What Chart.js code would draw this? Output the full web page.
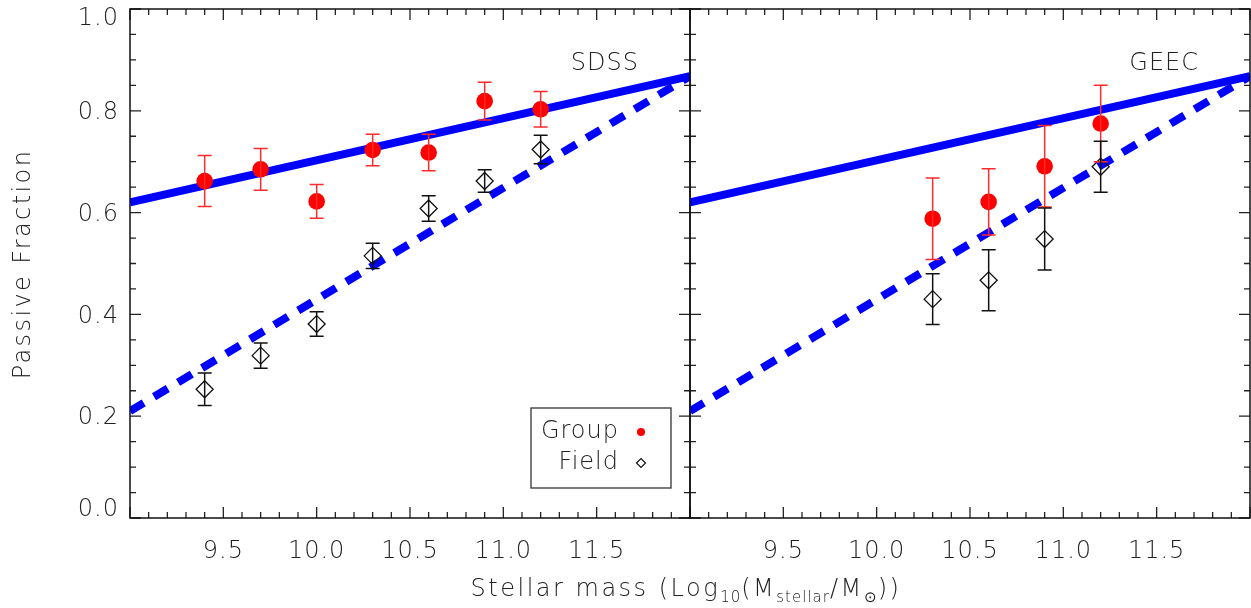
<!DOCTYPE html>
<html>
<head>
<meta charset="utf-8">
<script src="https://cdn.jsdelivr.net/npm/chart.js@4.4.0/dist/chart.umd.min.js"></script>
<style>
  body { margin: 0; background: #fff; }
  #wrap { position: relative; width: 1251px; height: 608px; overflow: hidden; font-family: 'DejaVu Sans', Lato, sans-serif; font-weight: 200; color: #222; }
  #sdss { position: absolute; left: 0; top: 0; }
  #geec { position: absolute; left: 680px; top: 0; }
  .title { position: absolute; font-size: 24px; letter-spacing: 2.5px; line-height: 30px; height: 30px; text-align: center; white-space: nowrap; }
  #ytitle { left: -128px; top: 249px; width: 300px; transform: rotate(-90deg); letter-spacing: 2.4px; }
  #xtitle { left: 386px; top: 573px; width: 600px; }
  sub { font-size: 15px; vertical-align: -6px; letter-spacing: 1px; }
</style>
</head>
<body>
<div id="wrap">
  <canvas id="sdss" width="700" height="608"></canvas>
  <canvas id="geec" width="571" height="608"></canvas>
  <div class="title" id="ytitle">Passive Fraction</div>
  <div class="title" id="xtitle">Stellar mass (Log<sub>10</sub>(M<sub>stellar</sub>/M<sub>⊙</sub>))</div>
</div>
<script>
// values
const sdssMass = [9.4, 9.7, 10.0, 10.3, 10.6, 10.9, 11.2];
const sdssGroup = [0.662, 0.685, 0.622, 0.723, 0.718, 0.819, 0.803];
const sdssGroupErr = [0.050, 0.041, 0.033, 0.031, 0.036, 0.037, 0.035];
const sdssField = [0.253, 0.319, 0.381, 0.515, 0.608, 0.662, 0.724];
const sdssFieldErr = [0.032, 0.025, 0.024, 0.025, 0.025, 0.022, 0.028];

const geecMass = [10.3, 10.6, 10.9, 11.2];
const geecGroup = [0.588, 0.621, 0.691, 0.775];
const geecGroupErr = [0.080, 0.065, 0.080, 0.075];
const geecField = [0.430, 0.467, 0.548, 0.690];
const geecFieldErr = [0.050, 0.060, 0.061, 0.050];

// fitted relations (end points)
const fitMass = [9.0, 12.0];
const groupFit = [0.62, 0.868];
const fieldFit = [0.21, 0.868];

const xTickLabels = ['9.5', '10.0', '10.5', '11.0', '11.5'];
const yTickLabels = ['0.0', '0.2', '0.4', '0.6', '0.8', '1.0'];

const FONT = "'DejaVu Sans', Lato, sans-serif";
Chart.defaults.font.family = FONT;
Chart.defaults.font.weight = 200;
Chart.defaults.font.size = 24;
Chart.defaults.color = '#222';

function pts(xs, ys) {
    return xs.map((x, i) => ({ x: x, y: ys[i] }));
}

function panelData(mass, group, groupErr, field, fieldErr) {
    return [
        {
            label: 'Group', data: pts(mass, group), errors: groupErr, errColor: '#ff2a2a',
            pointStyle: 'circle', pointRadius: 8.3, backgroundColor: '#ff0000', borderWidth: 0
        },
        {
            label: 'Field', data: pts(mass, field), errors: fieldErr, errColor: '#111',
            pointStyle: 'rectRot', pointRadius: 8.5, borderColor: '#111', borderWidth: 1.3,
            backgroundColor: 'rgba(0,0,0,0)'
        },
        {
            label: 'Group fit', data: pts(fitMass, groupFit), showLine: true, pointRadius: 0,
            borderColor: '#0000ff', borderWidth: 8, clip: 0
        },
        {
            label: 'Field fit', data: pts(fitMass, fieldFit), showLine: true, pointRadius: 0,
            borderColor: '#0000ff', borderWidth: 8, borderDash: [16, 12], clip: 0
        }
    ];
}

// no automatic padding from the tick labels, the frame is placed by hand
function noPad(s) {
    s.paddingTop = 0; s.paddingBottom = 0; s.paddingLeft = 0; s.paddingRight = 0;
}

// y labels: the end ones are kept inside the frame (empty line pushes them in)
function yLabel(v) {
    const t = v.toFixed(1);
    if (!yTickLabels.includes(t)) return '';
    if (t === '1.0') return ['', t];
    if (t === '0.0') return [t, ''];
    return t;
}

// error bars, frame, inner tick marks, panel label and legend box
const decor = {
    id: 'decor',
    beforeDraw(chart) {
        chart.ctx.letterSpacing = '1px';
    },
    afterDatasetsDraw(chart) {
        const ctx = chart.ctx, x = chart.scales.x, y = chart.scales.y;
        ctx.save();
        chart.data.datasets.forEach(ds => {
            if (!ds.errors) return;
            ctx.strokeStyle = ds.errColor;
            ctx.lineWidth = 1.5;
            ctx.beginPath();
            ds.data.forEach((p, i) => {
                const px = x.getPixelForValue(p.x);
                const top = y.getPixelForValue(p.y + ds.errors[i]);
                const bot = y.getPixelForValue(p.y - ds.errors[i]);
                ctx.moveTo(px, top); ctx.lineTo(px, bot);
                ctx.moveTo(px - 7, top); ctx.lineTo(px + 7, top);
                ctx.moveTo(px - 7, bot); ctx.lineTo(px + 7, bot);
            });
            ctx.stroke();
        });
        ctx.restore();
    },
    afterDraw(chart, args, opts) {
        const ctx = chart.ctx, a = chart.chartArea, x = chart.scales.x, y = chart.scales.y;
        ctx.save();
        ctx.strokeStyle = '#222';
        ctx.lineWidth = 1.3;
        ctx.beginPath();
        for (let k = 90; k <= 120; k++) {
            const px = x.getPixelForValue(k / 10);
            const len = k % 5 === 0 ? 11 : 6;
            ctx.moveTo(px, a.bottom); ctx.lineTo(px, a.bottom - len);
            ctx.moveTo(px, a.top); ctx.lineTo(px, a.top + len);
        }
        for (let k = 0; k <= 20; k++) {
            const py = y.getPixelForValue(k / 20);
            const len = k % 4 === 0 ? 11 : 6;
            ctx.moveTo(a.left, py); ctx.lineTo(a.left + len, py);
            ctx.moveTo(a.right, py); ctx.lineTo(a.right - len, py);
        }
        ctx.stroke();
        ctx.strokeStyle = '#111';
        ctx.lineWidth = 1.5;
        ctx.strokeRect(a.left, a.top, a.right - a.left, a.bottom - a.top);

        ctx.fillStyle = '#222';
        ctx.font = '200 24px ' + FONT;
        ctx.textAlign = 'right';
        ctx.textBaseline = 'middle';
        ctx.fillText(opts.label, a.right - 51, a.top + 55);

        if (opts.legend) {
            ctx.strokeStyle = '#333';
            ctx.lineWidth = 1.3;
            ctx.strokeRect(a.right - 159, a.bottom - 110, 140, 80);
            ctx.fillText('Group', a.right - 71, a.bottom - 86);
            ctx.fillText('Field', a.right - 71, a.bottom - 55);
            ctx.fillStyle = '#ff0000';
            ctx.beginPath();
            ctx.arc(a.right - 49, a.bottom - 86, 4, 0, Math.PI * 2);
            ctx.fill();
            ctx.strokeStyle = '#111';
            ctx.lineWidth = 1.2;
            ctx.beginPath();
            const cx = a.right - 49, cy = a.bottom - 55, r = 4.5;
            ctx.moveTo(cx - r, cy); ctx.lineTo(cx, cy - r); ctx.lineTo(cx + r, cy); ctx.lineTo(cx, cy + r);
            ctx.closePath();
            ctx.stroke();
        }
        ctx.restore();
    }
};

function makePanel(id, datasets, label, showY) {
    return new Chart(document.getElementById(id), {
        type: 'scatter',
        data: { datasets: datasets },
        plugins: [decor],
        options: {
            responsive: false,
            animation: false,
            devicePixelRatio: 1,
            events: [],
            layout: { autoPadding: false, padding: { top: 9, right: showY ? 10 : 1, left: 0, bottom: 0 } },
            plugins: {
                legend: { display: false },
                tooltip: { enabled: false },
                decor: { label: label, legend: showY }
            },
            scales: {
                x: {
                    type: 'linear', min: 9, max: 12,
                    grid: { display: false, drawTicks: false },
                    border: { display: false },
                    ticks: {
                        stepSize: 0.5, padding: 19,
                        callback: v => xTickLabels.includes(v.toFixed(1)) ? v.toFixed(1) : ''
                    },
                    afterFit: s => { s.height = 90; noPad(s); }
                },
                y: {
                    type: 'linear', min: 0, max: 1,
                    grid: { display: false, drawTicks: false },
                    border: { display: false },
                    ticks: {
                        display: showY, stepSize: 0.2, padding: 11, labelOffset: 2,
                        font: ctx => ({ lineHeight: ctx.tick && ctx.tick.value >= 0.99 ? '16px' : '20px' }),
                        callback: yLabel
                    },
                    afterFit: s => { s.width = showY ? 130 : 10; noPad(s); }
                }
            }
        }
    });
}

makePanel('sdss', panelData(sdssMass, sdssGroup, sdssGroupErr, sdssField, sdssFieldErr), 'SDSS', true);
makePanel('geec', panelData(geecMass, geecGroup, geecGroupErr, geecField, geecFieldErr), 'GEEC', false);
</script>
</body>
</html>
